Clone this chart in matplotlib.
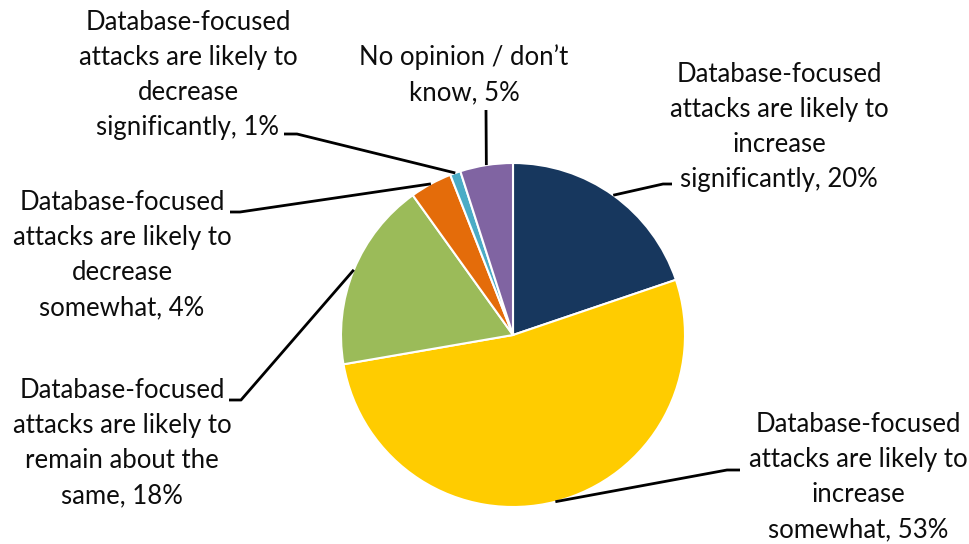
import matplotlib.pyplot as plt
import numpy as np

# data
labels = ['Database-focused\nattacks are likely to\nincrease\nsignificantly, 20%',
          'Database-focused\nattacks are likely to\nincrease\nsomewhat, 53%',
          'Database-focused\nattacks are likely to\nremain about the\nsame, 18%',
          'Database-focused\nattacks are likely to\ndecrease\nsomewhat, 4%',
          'Database-focused\nattacks are likely to\ndecrease\nsignificantly, 1%',
          'No opinion / don\u2019t\nknow, 5%']
values = [20, 53, 18, 4, 1, 5]
colors = ['#17375E', '#FFCC00', '#9BBB59', '#E46C0A', '#4BACC6', '#8064A2']

# layout in pixels (top-down)
W, H = 969, 544
cx, cy, R = 513, 335, 172
text_pos = [(779, 127), (858, 477), (122, 443), (122, 255), (188, 75), (464, 75)]
kinks = [(663, 184), (727, 470), (241, 400), (240, 212), (297, 134), (486, 110)]
ends = [(672, 184), (740, 470), (229, 400), (230, 212), (284, 134), (486, 110)]

plt.rcParams['font.family'] = ['Lato', 'DejaVu Sans']

fig = plt.figure(figsize=(W / 100, H / 100), dpi=100)
ax = fig.add_axes([0, 0, 1, 1])

wedges, _ = ax.pie(values, colors=colors, startangle=90, counterclock=False,
                   center=(cx, H - cy), radius=R,
                   wedgeprops=dict(edgecolor='white', linewidth=1.5))
ax.set_xlim(0, W)
ax.set_ylim(0, H)
ax.set_aspect('equal')
ax.axis('off')

for w, lab, tp, k, e in zip(wedges, labels, text_pos, kinks, ends):
    ang = np.deg2rad((w.theta1 + w.theta2) / 2)
    px = cx + R * np.cos(ang)
    py = (H - cy) + R * np.sin(ang)
    ax.plot([px, k[0], e[0]], [py, H - k[1], H - e[1]], color='black', lw=2.0,
            solid_capstyle='butt', zorder=3)
    ax.text(tp[0], H - tp[1], lab, ha='center', va='center', fontsize=18.5,
            linespacing=1.5, color='#0d0d0d')

fig.savefig('out.png', dpi=100)
